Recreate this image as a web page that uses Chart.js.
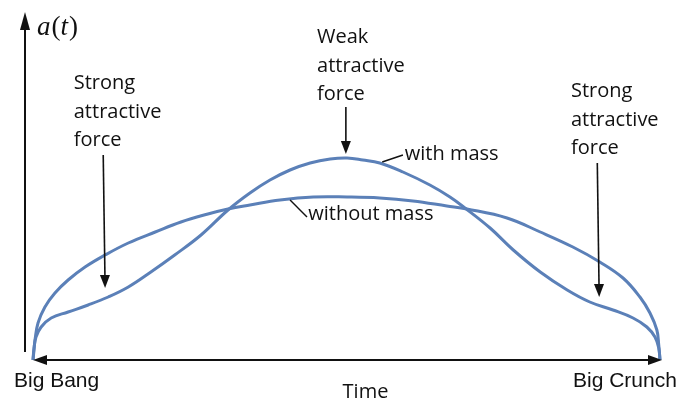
<!DOCTYPE html>
<html>
<head>
<meta charset="utf-8">
<script src="https://cdn.jsdelivr.net/npm/chart.js@4/dist/chart.umd.min.js"></script>
<style>
  html, body { margin: 0; padding: 0; background: #fff; }
  canvas { display: block; }
</style>
</head>
<body>
<canvas id="chart" width="681" height="401"></canvas>
<script>
// Time runs from Big Bang (0) to Big Crunch (100); scale factor a(t) in arbitrary units
const withoutMassT = [0, 0.16, 0.32, 0.8, 1.9, 3.5, 5.6, 8.3, 11.5, 15.2, 19.5, 23.6, 27.9, 31.1, 34.6, 39.4, 44.7, 50.1, 55.3, 60.6, 66.0, 69.2, 75.6, 80.9, 86.1, 90.4, 94.1, 96.8, 98.4, 99.5, 99.8, 100];
const withoutMassA = [0, 0.10, 0.20, 0.37, 0.53, 0.67, 0.80, 0.93, 1.05, 1.17, 1.28, 1.38, 1.46, 1.51, 1.55, 1.60, 1.63, 1.63, 1.62, 1.59, 1.54, 1.51, 1.42, 1.28, 1.13, 0.98, 0.82, 0.63, 0.47, 0.30, 0.15, 0];

const withMassT = [0, 0.16, 0.48, 1.3, 2.9, 5.6, 8.8, 12.0, 15.2, 18.8, 22.6, 26.8, 31.1, 34.6, 37.8, 41.0, 44.2, 47.4, 50.1, 52.6, 55.3, 59.0, 63.3, 66.5, 68.9, 72.9, 76.6, 80.9, 85.2, 88.8, 92.5, 95.7, 97.9, 99.2, 99.8, 100];
const withMassA = [0, 0.12, 0.23, 0.33, 0.42, 0.48, 0.55, 0.63, 0.73, 0.88, 1.05, 1.25, 1.50, 1.67, 1.80, 1.90, 1.97, 2.01, 2.02, 2.00, 1.97, 1.88, 1.75, 1.63, 1.52, 1.32, 1.10, 0.88, 0.70, 0.58, 0.50, 0.42, 0.33, 0.23, 0.12, 0];

const curveColor = '#5b80b8';
const inkColor = '#111111';
const noteFont = "20px 'Open Sans', sans-serif";

// Annotation arrows in data units: [t0, a0, t1, a1]
const noteArrows = [
  [11.2, 2.05, 11.5, 0.72],
  [49.9, 2.53, 49.9, 2.06],
  [90.0, 1.97, 90.3, 0.63]
];
// Leader lines from curve to its label
const leaderLines = [
  [55.7, 1.98, 59.0, 2.05],
  [41.0, 1.60, 43.7, 1.43]
];
// Text notes: t, a of first baseline, lines
const notes = [
  { t: 6.5, a: 2.71, lines: ['Strong', 'attractive', 'force'] },
  { t: 45.3, a: 3.17, lines: ['Weak', 'attractive', 'force'] },
  { t: 85.8, a: 2.63, lines: ['Strong', 'attractive', 'force'] },
  { t: 59.3, a: 2.00, lines: ['with mass'] },
  { t: 43.9, a: 1.40, lines: ['without mass'] }
];

const toPoints = (ts, as) => ts.map((t, i) => ({ x: t, y: as[i] }));

const drawArrowHead = (ctx, x, y, angle, len, half) => {
  ctx.save();
  ctx.translate(x, y);
  ctx.rotate(angle);
  ctx.beginPath();
  ctx.moveTo(0, 0);
  ctx.lineTo(-len, -half);
  ctx.lineTo(-len, half);
  ctx.closePath();
  ctx.fill();
  ctx.restore();
};

const sketchPlugin = {
  id: 'sketch',
  afterDatasetsDraw(chart) {
    const { ctx, chartArea, scales } = chart;
    const sx = scales.x, sy = scales.y;
    ctx.save();
    ctx.strokeStyle = inkColor;
    ctx.fillStyle = inkColor;

    // y axis with arrow
    const yAxisX = chartArea.left - 8;
    ctx.lineWidth = 2;
    ctx.beginPath();
    ctx.moveTo(yAxisX, chartArea.bottom - 8);
    ctx.lineTo(yAxisX, chartArea.top + 10);
    ctx.stroke();
    drawArrowHead(ctx, yAxisX, chartArea.top, -Math.PI / 2, 18, 5);

    // x axis, double arrow
    const x0 = sx.getPixelForValue(0), x1 = sx.getPixelForValue(100) + 2;
    const xAxisY = sy.getPixelForValue(0);
    ctx.beginPath();
    ctx.moveTo(x0 + 8, xAxisY);
    ctx.lineTo(x1 - 8, xAxisY);
    ctx.stroke();
    drawArrowHead(ctx, x0, xAxisY, Math.PI, 14, 5);
    drawArrowHead(ctx, x1, xAxisY, 0, 14, 5);

    // annotation arrows
    ctx.lineWidth = 1.6;
    noteArrows.forEach(([t0, a0, t1, a1]) => {
      const px0 = sx.getPixelForValue(t0), py0 = sy.getPixelForValue(a0);
      const px1 = sx.getPixelForValue(t1), py1 = sy.getPixelForValue(a1);
      const ang = Math.atan2(py1 - py0, px1 - px0);
      ctx.beginPath();
      ctx.moveTo(px0, py0);
      ctx.lineTo(px1 - Math.cos(ang) * 8, py1 - Math.sin(ang) * 8);
      ctx.stroke();
      drawArrowHead(ctx, px1, py1, ang, 13, 5);
    });

    // leader lines
    ctx.lineWidth = 1.4;
    leaderLines.forEach(([t0, a0, t1, a1]) => {
      ctx.beginPath();
      ctx.moveTo(sx.getPixelForValue(t0), sy.getPixelForValue(a0));
      ctx.lineTo(sx.getPixelForValue(t1), sy.getPixelForValue(a1));
      ctx.stroke();
    });

    // notes
    ctx.font = noteFont;
    ctx.textAlign = 'left';
    ctx.textBaseline = 'alphabetic';
    notes.forEach(n => {
      const px = sx.getPixelForValue(n.t), py = sy.getPixelForValue(n.a);
      n.lines.forEach((line, i) => ctx.fillText(line, px, py + i * 28.5));
    });

    // axis labels
    ctx.font = "21px 'Liberation Sans', Arial, sans-serif";
    ctx.fillText('Big Bang', 14, xAxisY + 27);
    ctx.fillText('Big Crunch', 573, xAxisY + 27);
    ctx.font = noteFont;
    ctx.textAlign = 'center';
    ctx.fillText('Time', (x0 + x1) / 2 + 18, xAxisY + 38);

    // a(t)
    ctx.textAlign = 'left';
    let lx = yAxisX + 12;
    const ly = chartArea.top + 23;
    [['a', true], ['(', false], ['t', true], [')', false]].forEach(([s, it]) => {
      ctx.font = (it ? 'italic ' : '') + "27px 'Liberation Serif', serif";
      ctx.fillText(s, lx, ly);
      lx += ctx.measureText(s).width + (it ? 1 : 0);
    });
    ctx.restore();
  }
};

new Chart(document.getElementById('chart'), {
  type: 'line',
  data: {
    datasets: [
      { label: 'without mass', data: toPoints(withoutMassT, withoutMassA) },
      { label: 'with mass', data: toPoints(withMassT, withMassA) }
    ]
  },
  options: {
    responsive: false,
    animation: false,
    clip: false,
    layout: { padding: { left: 33, right: 21, top: 12, bottom: 41 } },
    elements: {
      line: { borderColor: curveColor, borderWidth: 3, tension: 0.4, fill: false },
      point: { radius: 0, hoverRadius: 0 }
    },
    scales: {
      x: { type: 'linear', min: 0, max: 100, display: false },
      y: { type: 'linear', min: 0, max: 3.48, display: false }
    },
    plugins: { legend: { display: false }, tooltip: { enabled: false } }
  },
  plugins: [sketchPlugin]
});
</script>
</body>
</html>
